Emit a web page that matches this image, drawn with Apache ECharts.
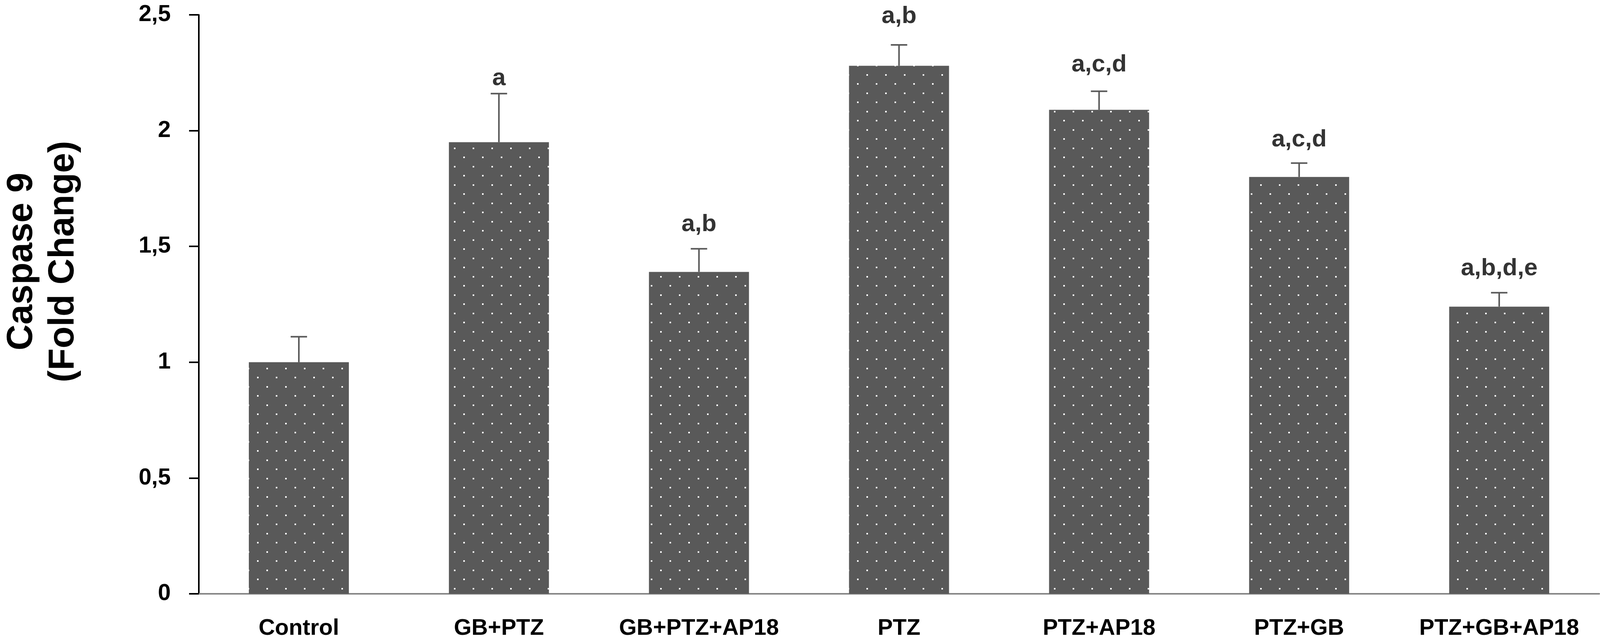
<!DOCTYPE html>
<html lang="en">
<head>
  <meta charset="UTF-8">
  <script type="text/javascript" src="https://cdn.jsdelivr.net/npm/echarts@6/dist/echarts.min.js"></script>
  <title>Caspase 9</title>
  <style>
    * {margin: 0; padding: 0;}
    html, body {
      width: 100%;
      height: 100%;
      overflow: hidden;
      background-color: #fff;
    }
    #chart {
      width: 4106px;
      height: 1647px;
    }
  </style>
</head>
<body>
  <div id="chart"></div>
</body>
<script>
var groups = ['Control', 'GB+PTZ', 'GB+PTZ+AP18', 'PTZ', 'PTZ+AP18', 'PTZ+GB', 'PTZ+GB+AP18']
var means = [1.00, 1.95, 1.39, 2.28, 2.09, 1.80, 1.24]
var errors = [0.11, 0.21, 0.10, 0.09, 0.08, 0.06, 0.06]
var letters = ['', 'a', 'a,b', 'a,b', 'a,c,d', 'a,c,d', 'a,b,d,e']
var yTicks = [0, 0.5, 1, 1.5, 2, 2.5]

// the letters were placed by hand in the original, so gaps above the error bars differ
var labelGaps = [30, 8, 31, 42, 37, 29, 31]

window.onload = function () {
  drawChart()
}

// dark grey fill with a staggered grid of small white dots
function dotPattern () {
  var c = document.createElement('canvas')
  c.width = 48
  c.height = 47
  var ctx = c.getContext('2d')
  ctx.fillStyle = '#595959'
  ctx.fillRect(0, 0, 48, 47)
  ctx.fillStyle = '#ffffff'
  ctx.fillRect(10, 2, 4, 4)
  ctx.fillRect(34, 25, 4, 4)
  return c
}

function drawChart () {
  var chart = echarts.init(document.getElementById('chart'))
  var font = 'Liberation Sans, Arial, sans-serif'
  var option = {
    animation: false,
    grid: {left: 509, right: 12, top: 38, bottom: 126},
    xAxis: {
      type: 'category',
      data: groups,
      axisLine: {lineStyle: {color: '#868686', width: 4}},
      axisTick: {show: false},
      axisLabel: {
        interval: 0,
        color: '#000',
        fontFamily: font,
        fontWeight: 'bold',
        fontSize: 58,
        margin: 60
      }
    },
    yAxis: {
      type: 'value',
      min: yTicks[0],
      max: yTicks[yTicks.length - 1],
      interval: 0.5,
      splitLine: {show: false},
      axisLine: {show: true, lineStyle: {color: '#000', width: 4}},
      axisTick: {show: true, length: 25, lineStyle: {color: '#000', width: 4}},
      axisLabel: {
        color: '#000',
        fontFamily: font,
        fontWeight: 'bold',
        fontSize: 59,
        margin: 72,
        formatter: function (v) { return String(v).replace('.', ',') }
      }
    },
    graphic: [{
      type: 'text',
      x: 110,
      y: 670,
      rotation: Math.PI / 2,
      style: {
        text: 'Caspase 9\n(Fold Change)',
        fill: '#000',
        font: 'bold 92px "Liberation Sans", Arial, sans-serif',
        lineHeight: 106,
        align: 'center',
        verticalAlign: 'middle'
      }
    }],
    series: [
      {
        type: 'bar',
        data: means,
        barWidth: '50%',
        itemStyle: {color: {image: dotPattern(), repeat: 'repeat'}},
        silent: true
      },
      {
        type: 'custom',
        data: means.map(function (m, i) { return [i, m, errors[i]] }),
        encode: {x: 0, y: 1},
        z: 5,
        silent: true,
        renderItem: function (params, api) {
          var i = api.value(0)
          var m = api.value(1)
          var e = api.value(2)
          var base = api.coord([i, m])
          var top = api.coord([i, m + e])
          var style = {stroke: '#595959', lineWidth: 4}
          return {
            type: 'group',
            children: [
              {type: 'line', shape: {x1: base[0], y1: base[1], x2: top[0], y2: top[1]}, style: style},
              {type: 'line', shape: {x1: top[0] - 21, y1: top[1], x2: top[0] + 21, y2: top[1]}, style: style}
            ]
          }
        }
      },
      {
        type: 'scatter',
        data: means.map(function (m, i) {
          return {value: [i, m + errors[i]], label: {distance: labelGaps[i]}}
        }),
        symbolSize: 0,
        silent: true,
        label: {
          show: true,
          position: 'top',
          color: '#000',
          fontFamily: font,
          fontWeight: 'bold',
          fontSize: 62,
          formatter: function (p) { return letters[p.dataIndex] }
        }
      }
    ]
  }
  chart.setOption(option)
}
</script>
</html>
